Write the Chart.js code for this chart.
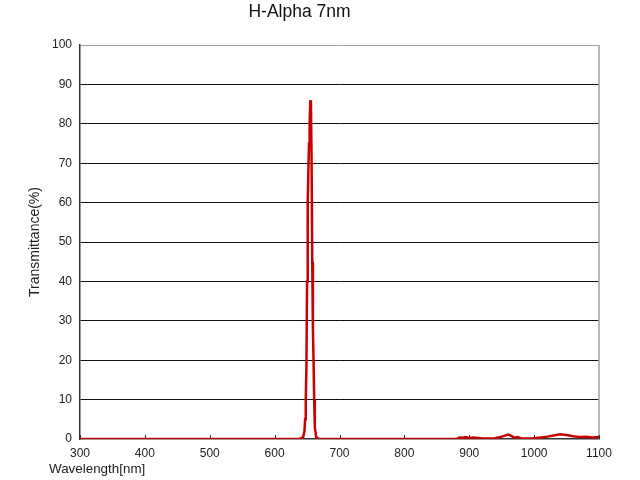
<!DOCTYPE html>
<html>
<head>
<meta charset="utf-8">
<script src="https://cdn.jsdelivr.net/npm/chart.js@4/dist/chart.umd.min.js"></script>
<style>
  html, body { margin: 0; padding: 0; background: #fff; }
  #wrap { width: 640px; height: 480px; }
</style>
</head>
<body>
<div id="wrap"><canvas id="filterChart" width="640" height="480"></canvas></div>
<script>
// wavelength (nm) and transmittance (%)
const wavelengths = [300, 500, 630, 638, 644, 646, 647, 648, 649, 650, 651, 652, 653, 654, 655, 656, 657, 658, 659, 660, 661, 662, 664, 668,
  700, 880, 885, 890, 895, 900, 905, 910, 920, 940, 950, 960, 965, 970, 975, 980, 995, 1000, 1010, 1020, 1030, 1040, 1050, 1060, 1070, 1080, 1090, 1100];
const transmittance = [0, 0, 0, 0, 0.5, 2, 5, 10, 18, 40, 60, 68, 75, 80, 86, 85, 70, 45, 28, 20, 10, 3, 0.5, 0,
  0, 0, 0.4, 0.3, 0.5, 0.2, 0.4, 0.3, 0.1, 0.2, 0.6, 1.1, 0.8, 0.3, 0.5, 0.1, 0.1, 0.2, 0.4, 0.6, 0.9, 1.2, 1.0, 0.7, 0.5, 0.6, 0.4, 0.5];
const xTicks = [300, 400, 500, 600, 700, 800, 900, 1000, 1100];
const yTicks = [0, 10, 20, 30, 40, 50, 60, 70, 80, 90, 100];

const FONT = "'Liberation Sans', Arial, sans-serif";

// grey frame on the right, inner tick marks on x axis, left-aligned x title
const framePlugin = {
  id: "frame",
  beforeDatasetsDraw(chart) {
    const { ctx, chartArea: a, scales } = chart;
    ctx.save();
    ctx.strokeStyle = "#a0a0a0";
    ctx.lineWidth = 1.5;
    ctx.beginPath();
    ctx.moveTo(a.right, a.top);
    ctx.lineTo(a.right, a.bottom);
    ctx.stroke();
    ctx.strokeStyle = "#333";
    ctx.lineWidth = 1;
    xTicks.forEach(v => {
      const px = Math.round(scales.x.getPixelForValue(v)) + 0.5;
      ctx.beginPath();
      ctx.moveTo(px, a.bottom);
      ctx.lineTo(px, a.bottom - 4);
      ctx.stroke();
    });
    ctx.restore();
  },
  afterDraw(chart) {
    const { ctx } = chart;
    ctx.save();
    ctx.font = "13.4px " + FONT;
    ctx.fillStyle = "#222";
    ctx.textAlign = "left";
    ctx.textBaseline = "middle";
    ctx.fillText("Wavelength[nm]", 49, 469);
    ctx.restore();
  }
};

new Chart(document.getElementById("filterChart"), {
  type: "line",
  data: {
    datasets: [{
      label: "H-Alpha 7nm",
      data: wavelengths.map((w, i) => ({ x: w, y: transmittance[i] })),
      borderColor: "#c80000",
      borderWidth: 2.5,
      pointRadius: 0,
      tension: 0,
      fill: false
    }]
  },
  options: {
    responsive: false,
    animation: false,
    layout: { padding: { left: 0, right: 41, top: 0, bottom: 0 } },
    plugins: {
      legend: { display: false },
      tooltip: { enabled: false },
      title: {
        display: true,
        text: "H-Alpha 7nm",
        color: "#111",
        font: { family: FONT, size: 17.5, weight: "normal" },
        padding: { top: 2, bottom: 22 }
      }
    },
    scales: {
      x: {
        type: "linear",
        min: 300,
        max: 1100,
        afterBuildTicks: s => { s.ticks = xTicks.map(v => ({ value: v })); },
        afterFit: s => { s.height = 41; },
        grid: { display: false, drawTicks: false },
        border: { display: true, color: "#333", width: 1.5 },
        ticks: { color: "#222", padding: 7, font: { family: FONT, size: 12 }, maxRotation: 0, callback: v => String(v) }
      },
      y: {
        min: 0,
        max: 100,
        afterBuildTicks: s => { s.ticks = yTicks.map(v => ({ value: v })); },
        afterFit: s => { s.width = 80; },
        grid: {
          drawTicks: false,
          color: c => (c.tick.value === 100 ? "#a0a0a0" : c.tick.value === 0 ? "rgba(0,0,0,0)" : "#111"),
          lineWidth: 1
        },
        border: { display: true, color: "#333", width: 1.5 },
        ticks: { color: "#222", padding: 8, font: { family: FONT, size: 12 } },
        title: {
          display: true,
          text: "Transmittance(%)",
          color: "#222",
          font: { family: FONT, size: 14 },
          padding: { top: 27, bottom: 0 }
        }
      }
    }
  },
  plugins: [framePlugin]
});
</script>
</body>
</html>
